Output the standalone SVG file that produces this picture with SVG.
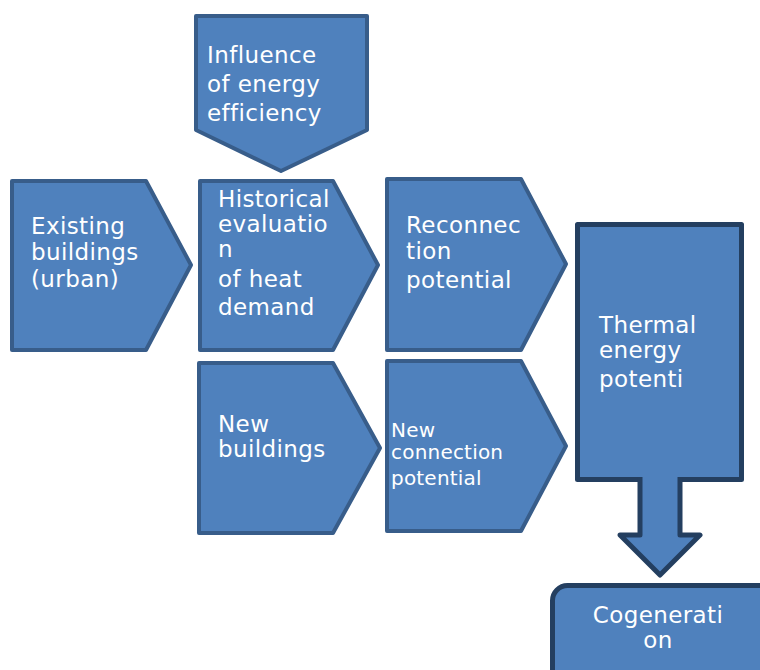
<svg xmlns="http://www.w3.org/2000/svg" width="760" height="670" viewBox="0 0 760 670">
<style>
.n{fill:#4f81bd;stroke:#385d8a;stroke-width:4;stroke-linejoin:round}
.d{fill:#4f81bd;stroke:#243f60;stroke-width:5;stroke-linejoin:round}
text{font-family:"DejaVu Sans","Verdana",sans-serif;font-size:23px;letter-spacing:0.4px;fill:#ffffff}
.s{font-size:20px;letter-spacing:0.2px}
</style>
<rect width="760" height="670" fill="#ffffff"/>
<g id="influence">
<path class="n" d="M196,16 H367 V130 L281,171 L196,130 Z"/>
<text><tspan x="207" y="63">Influence</tspan><tspan x="207" y="92">of energy</tspan><tspan x="207" y="121">efficiency</tspan></text>
</g>
<g id="existing">
<path class="n" d="M12,181 H146 L191,265 L146,350 H12 Z"/>
<text><tspan x="31" y="234">Existing</tspan><tspan x="31" y="260">buildings</tspan><tspan x="31" y="287">(urban)</tspan></text>
</g>
<g id="historical">
<path class="n" d="M200,181 H333 L378,265 L333,350 H200 Z"/>
<text><tspan x="218" y="207">Historical</tspan><tspan x="218" y="232">evaluatio</tspan><tspan x="218" y="257">n</tspan><tspan x="218" y="287">of heat</tspan><tspan x="218" y="315">demand</tspan></text>
</g>
<g id="reconnection">
<path class="n" d="M387,179 H521 L566,264 L521,350 H387 Z"/>
<text><tspan x="406" y="233">Reconnec</tspan><tspan x="406" y="259">tion</tspan><tspan x="406" y="288">potential</tspan></text>
</g>
<g id="new-buildings">
<path class="n" d="M199,363 H333 L380,448 L333,533 H199 Z"/>
<text><tspan x="218" y="432">New</tspan><tspan x="218" y="457">buildings</tspan></text>
</g>
<g id="new-connection">
<path class="n" d="M387,361 H521 L566,446 L521,531 H387 Z"/>
<text class="s"><tspan x="391" y="437">New</tspan><tspan x="391" y="459">connection</tspan><tspan x="391" y="485">potential</tspan></text>
</g>
<g id="thermal">
<rect class="d" x="577.5" y="224.5" width="164" height="255"/>
<text><tspan x="599" y="333">Thermal</tspan><tspan x="599" y="358">energy</tspan><tspan x="599" y="387">potenti</tspan></text>
</g>
<g id="connectors">
<path class="d" d="M640,477 V535 H620 L660,575 L700,535 H680 V477"/>
</g>
<g id="cogeneration">
<rect class="d" x="552.5" y="585.5" width="240" height="120" rx="15"/>
<text text-anchor="middle"><tspan x="658" y="623">Cogenerati</tspan><tspan x="658" y="648">on</tspan></text>
</g>
</svg>
